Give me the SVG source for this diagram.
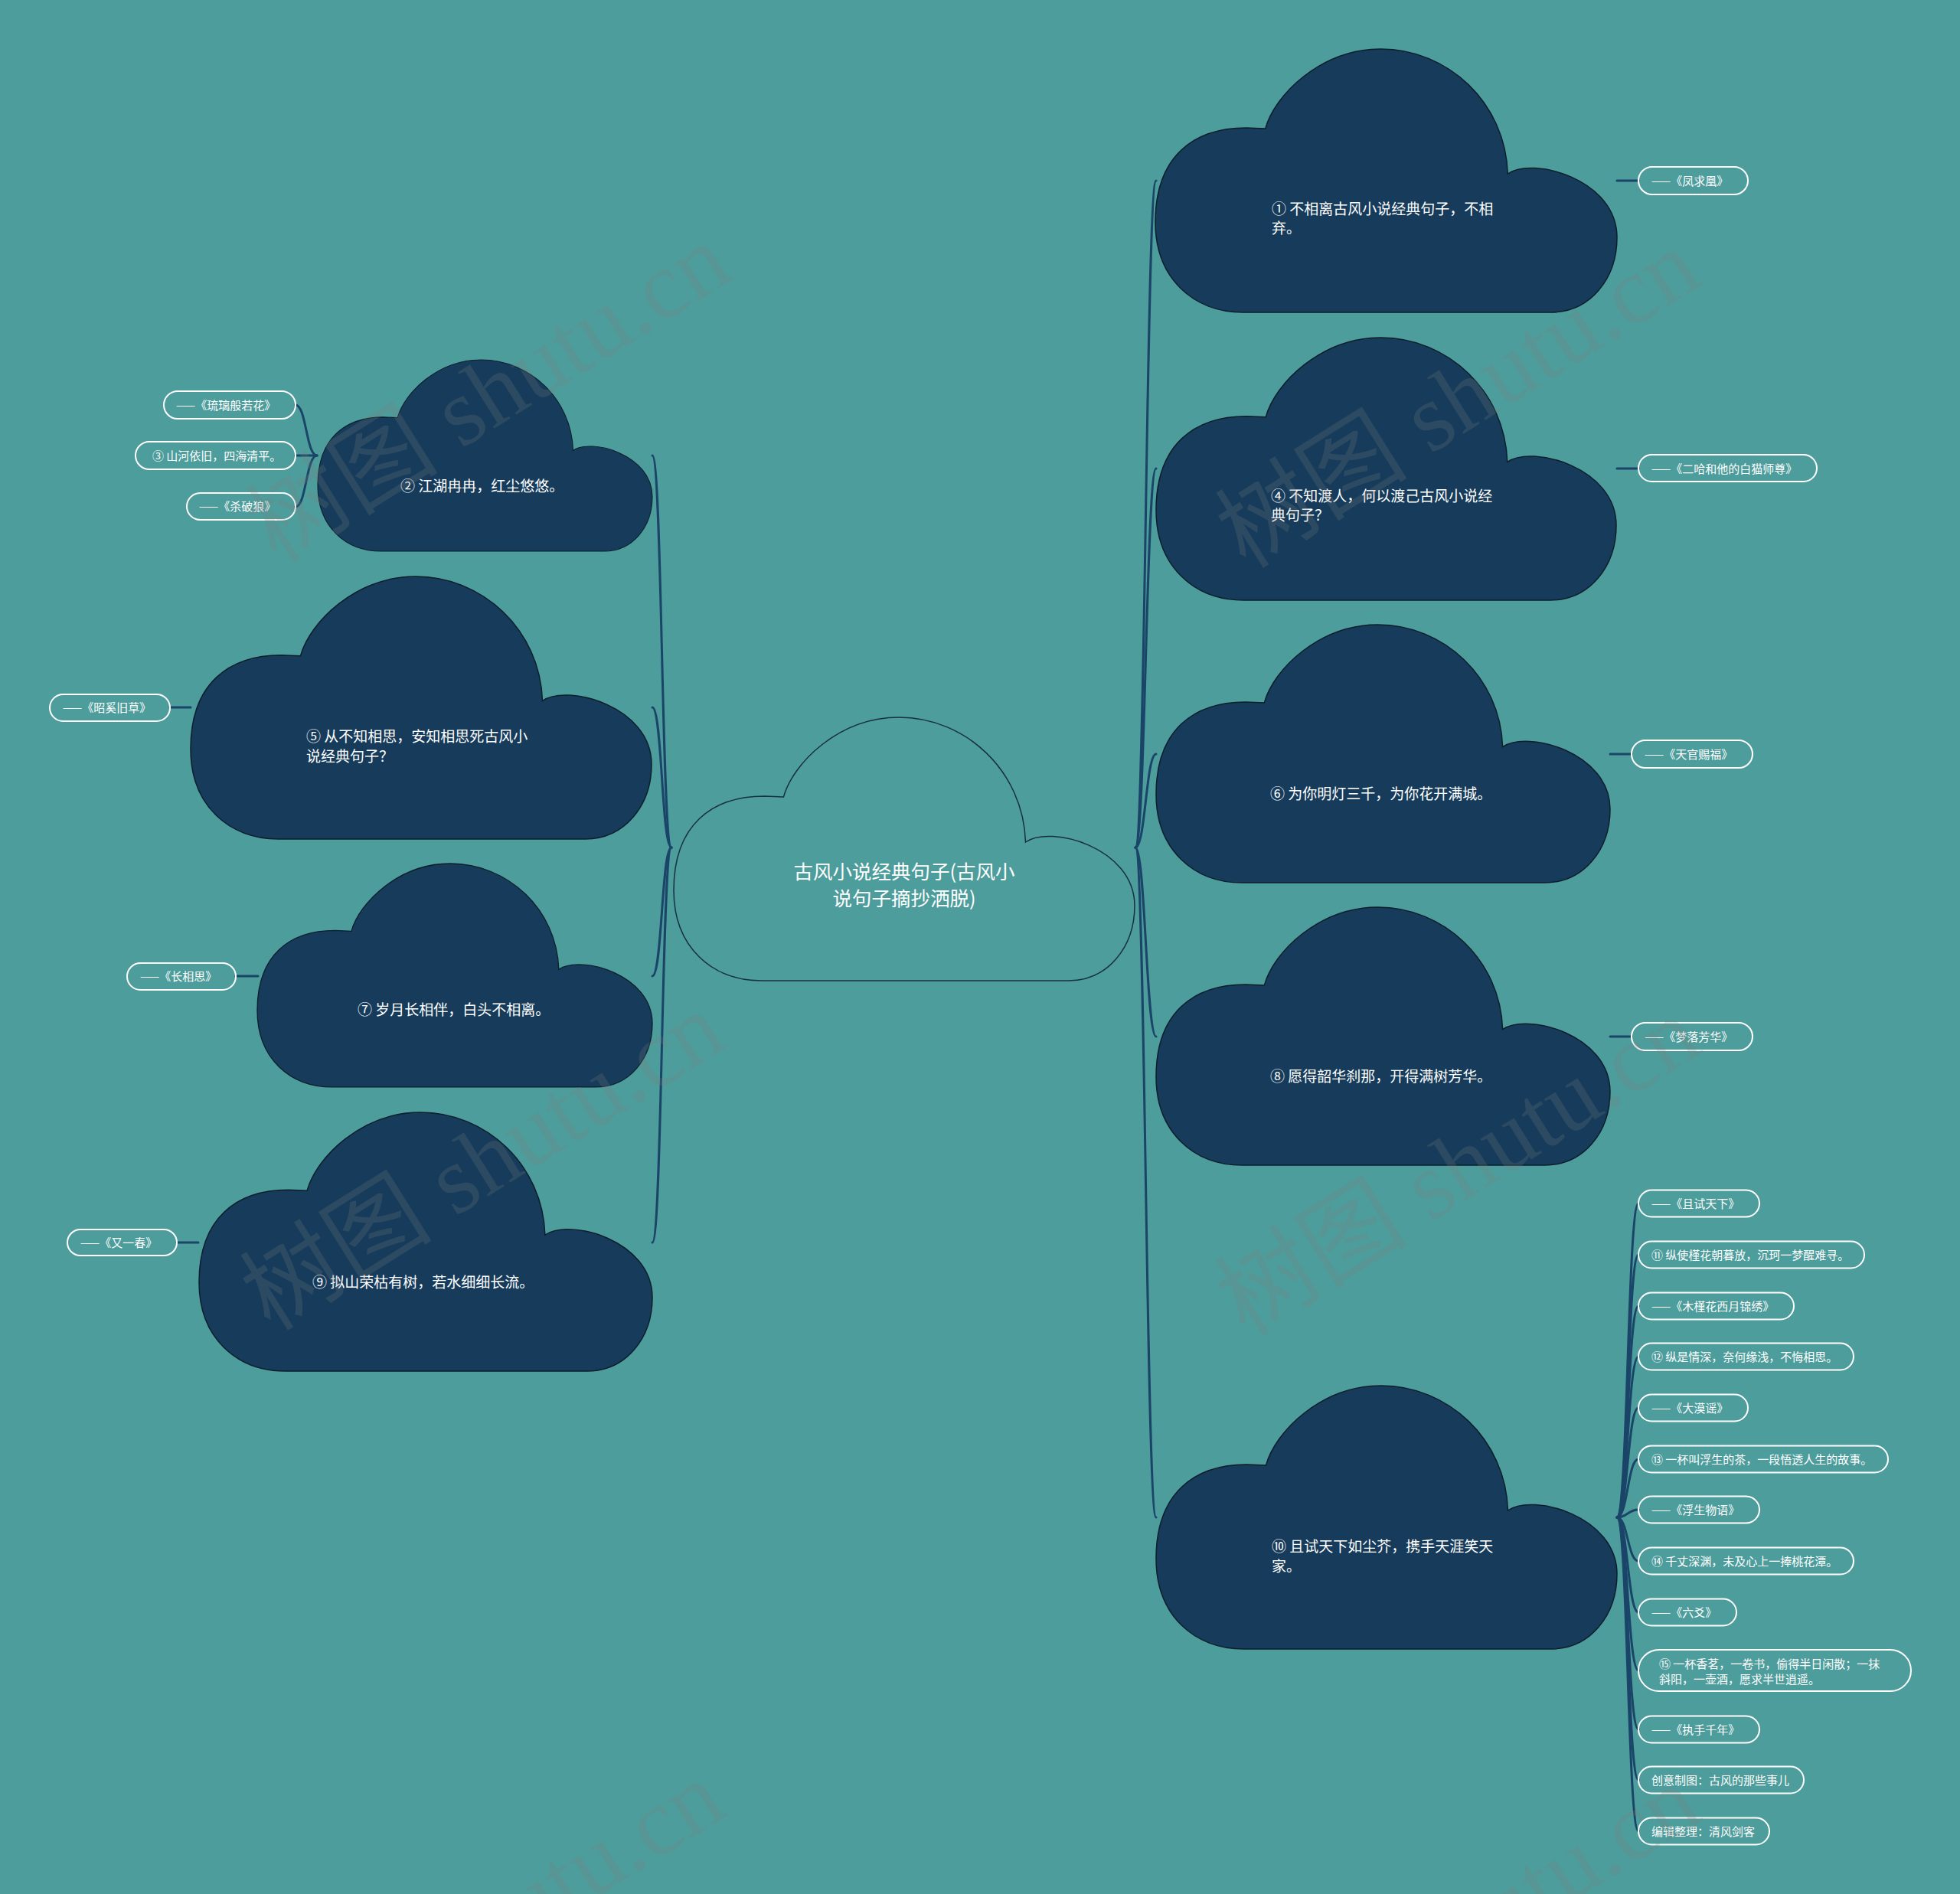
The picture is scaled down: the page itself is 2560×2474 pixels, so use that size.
<svg xmlns="http://www.w3.org/2000/svg" width="2560" height="2474" viewBox="0 0 2560 2474">
<defs>
<style>
.bg{fill:#4d9d9c}
.cloud{fill:#163b5b;stroke:#0d1e2b;stroke-width:1.5;vector-effect:non-scaling-stroke}
.root{fill:#4d9d9c;stroke:#173040;stroke-width:1.5;vector-effect:non-scaling-stroke}
.ct{fill:#ffffff;font-family:"Noto Sans CJK SC","Noto Sans",sans-serif;font-size:19px}
.rt{fill:#ffffff;font-family:"Noto Sans CJK SC","Noto Sans",sans-serif;font-size:25.5px;text-anchor:middle}
.pill{fill:none;stroke:#ffffff;stroke-width:2}
.lt{fill:#ffffff;font-family:"Noto Sans CJK SC","Noto Sans",sans-serif;font-size:15px}
.ln{fill:none;stroke:#1a4568;stroke-width:3;stroke-linecap:round}
.wm{fill:#7f7f7f;opacity:0.22;font-family:"Liberation Serif","Noto Sans CJK SC",serif;font-size:126px;text-anchor:middle}
</style>
<path id="cl" d="M143,104 C155,60 215,0 293,0 C380,0 455,70 458,163 C490,140 600,170 600,246 C600,300 565,344 514,344 L114,344 C50,344 0,300 0,226 C0,140 50,103 118,103 L143,104 Z"/>
</defs>
<rect class="bg" x="0" y="0" width="2560" height="2474"/>

<g id="connectors">
<path class="ln" d="M1483,1107 C1496,1107 1497,236 1510,236"/>
<path class="ln" d="M1483,1107 C1496,1107 1497,612 1510,612"/>
<path class="ln" d="M1483,1107 C1496,1107 1497,985 1510,985"/>
<path class="ln" d="M1483,1107 C1496,1107 1497,1354 1510,1354"/>
<path class="ln" d="M1483,1107 C1496,1107 1497,1982 1510,1982"/>
<path class="ln" d="M877,1107 C864,1107 865,595 852,595"/>
<path class="ln" d="M877,1107 C864,1107 865,924 852,924"/>
<path class="ln" d="M877,1107 C864,1107 865,1275 852,1275"/>
<path class="ln" d="M877,1107 C864,1107 865,1623 852,1623"/>
<path class="ln" d="M2112,236 L2140,236"/>
<path class="ln" d="M2112,612 L2140,612"/>
<path class="ln" d="M2103,985 L2131,985"/>
<path class="ln" d="M2103,1354 L2131,1354"/>
<path class="ln" d="M414,595 C400,595 400,529 386,529"/>
<path class="ln" d="M414,595 L386,595"/>
<path class="ln" d="M414,595 C400,595 400,662 386,662"/>
<path class="ln" d="M249,924 L222,924"/>
<path class="ln" d="M337,1275 L308,1275"/>
<path class="ln" d="M259,1623 L231,1623"/>
<path class="ln" d="M2112,1982 C2126,1982 2126,1572 2140,1572"/>
<path class="ln" d="M2112,1982 C2126,1982 2126,1639 2140,1639"/>
<path class="ln" d="M2112,1982 C2126,1982 2126,1706 2140,1706"/>
<path class="ln" d="M2112,1982 C2126,1982 2126,1772 2140,1772"/>
<path class="ln" d="M2112,1982 C2126,1982 2126,1839 2140,1839"/>
<path class="ln" d="M2112,1982 C2126,1982 2126,1906 2140,1906"/>
<path class="ln" d="M2112,1982 C2126,1982 2126,1972 2140,1972"/>
<path class="ln" d="M2112,1982 C2126,1982 2126,2039 2140,2039"/>
<path class="ln" d="M2112,1982 C2126,1982 2126,2106 2140,2106"/>
<path class="ln" d="M2112,1982 C2126,1982 2126,2182 2140,2182"/>
<path class="ln" d="M2112,1982 C2126,1982 2126,2259 2140,2259"/>
<path class="ln" d="M2112,1982 C2126,1982 2126,2325 2140,2325"/>
<path class="ln" d="M2112,1982 C2126,1982 2126,2392 2140,2392"/>
</g>

<g id="root">
<use href="#cl" class="root" transform="translate(880,937) scale(1.0033,1)"/>
<text class="rt" x="1181" y="1148">古风小说经典句子(古风小</text>
<text class="rt" x="1181" y="1183">说句子摘抄洒脱)</text>
</g>

<g id="n1">
<use href="#cl" class="cloud" transform="translate(1509,64) scale(1.005,1)"/>
<text class="ct" x="1661" y="280">① 不相离古风小说经典句子，不相</text>
<text class="ct" x="1661" y="305">弃。</text>
</g>
<g id="n4">
<use href="#cl" class="cloud" transform="translate(1510,441) scale(1.0017,0.997)"/>
<text class="ct" x="1660" y="655">④ 不知渡人，何以渡己古风小说经</text>
<text class="ct" x="1660" y="680">典句子？</text>
</g>
<g id="n6">
<use href="#cl" class="cloud" transform="translate(1510,816) scale(0.9883,0.9797)"/>
<text class="ct" x="1659" y="1044">⑥ 为你明灯三千，为你花开满城。</text>
</g>
<g id="n8">
<use href="#cl" class="cloud" transform="translate(1510,1185) scale(0.9883,0.9797)"/>
<text class="ct" x="1659" y="1413">⑧ 愿得韶华刹那，开得满树芳华。</text>
</g>
<g id="n10">
<use href="#cl" class="cloud" transform="translate(1510,1810) scale(1.0033,1)"/>
<text class="ct" x="1661" y="2027">⑩ 且试天下如尘芥，携手天涯笑天</text>
<text class="ct" x="1661" y="2053">家。</text>
</g>
<g id="n2">
<use href="#cl" class="cloud" transform="translate(415,470) scale(0.7283,0.7267)"/>
<text class="ct" x="523" y="642">② 江湖冉冉，红尘悠悠。</text>
</g>
<g id="n5">
<use href="#cl" class="cloud" transform="translate(249,753) scale(1.0033,0.997)"/>
<text class="ct" x="400" y="969">⑤ 从不知相思，安知相思死古风小</text>
<text class="ct" x="400" y="995">说经典句子？</text>
</g>
<g id="n7">
<use href="#cl" class="cloud" transform="translate(336,1128) scale(0.86,0.8488)"/>
<text class="ct" x="467" y="1326">⑦ 岁月长相伴，白头不相离。</text>
</g>
<g id="n9">
<use href="#cl" class="cloud" transform="translate(260,1453) scale(0.9867,0.9826)"/>
<text class="ct" x="408" y="1682">⑨ 拟山荣枯有树，若水细细长流。</text>
</g>

<g id="l1"><rect class="pill" x="2140" y="218" width="143" height="36" rx="18"/><text class="lt" x="2157" y="241.5">——《凤求凰》</text></g>
<g id="l4"><rect class="pill" x="2140" y="594" width="233" height="35" rx="17.5"/><text class="lt" x="2157" y="617.5">——《二哈和他的白猫师尊》</text></g>
<g id="l6"><rect class="pill" x="2131" y="967" width="158" height="36" rx="18"/><text class="lt" x="2148" y="990.5">——《天官赐福》</text></g>
<g id="l8"><rect class="pill" x="2131" y="1336" width="158" height="36" rx="18"/><text class="lt" x="2148" y="1359.5">——《梦落芳华》</text></g>

<g id="l2a"><rect class="pill" x="214" y="511" width="172" height="36" rx="18"/><text class="lt" x="230" y="534.5">——《琉璃般若花》</text></g>
<g id="l3"><rect class="pill" x="177" y="577" width="209" height="36" rx="18"/><text class="lt" x="199" y="600.5">③ 山河依旧，四海清平。</text></g>
<g id="l2b"><rect class="pill" x="244" y="644" width="142" height="35" rx="17.5"/><text class="lt" x="260" y="667">——《杀破狼》</text></g>
<g id="l5"><rect class="pill" x="65" y="907" width="157" height="35" rx="17.5"/><text class="lt" x="82" y="930">——《昭奚旧草》</text></g>
<g id="l7"><rect class="pill" x="166" y="1258" width="142" height="35" rx="17.5"/><text class="lt" x="183" y="1281">——《长相思》</text></g>
<g id="l9"><rect class="pill" x="88" y="1606" width="143" height="34" rx="17"/><text class="lt" x="105" y="1628.5">——《又一春》</text></g>

<g id="l10a"><rect class="pill" x="2140" y="1554.5" width="158" height="35" rx="17.5"/><text class="lt" x="2157" y="1577.5">——《且试天下》</text></g>
<g id="l11"><rect class="pill" x="2140" y="1621.5" width="295" height="35" rx="17.5"/><text class="lt" x="2157" y="1644.5">⑪ 纵使槿花朝暮放，沉珂一梦醒难寻。</text></g>
<g id="l10b"><rect class="pill" x="2140" y="1688.5" width="203" height="35" rx="17.5"/><text class="lt" x="2157" y="1711.5">——《木槿花西月锦绣》</text></g>
<g id="l12"><rect class="pill" x="2140" y="1754.5" width="281" height="35" rx="17.5"/><text class="lt" x="2157" y="1777.5">⑫ 纵是情深，奈何缘浅，不悔相思。</text></g>
<g id="l10c"><rect class="pill" x="2140" y="1821.5" width="143" height="35" rx="17.5"/><text class="lt" x="2157" y="1844.5">——《大漠谣》</text></g>
<g id="l13"><rect class="pill" x="2140" y="1888.5" width="326" height="35" rx="17.5"/><text class="lt" x="2157" y="1911.5">⑬ 一杯叫浮生的茶，一段悟透人生的故事。</text></g>
<g id="l10d"><rect class="pill" x="2140" y="1954.5" width="158" height="35" rx="17.5"/><text class="lt" x="2157" y="1977.5">——《浮生物语》</text></g>
<g id="l14"><rect class="pill" x="2140" y="2021.5" width="281" height="35" rx="17.5"/><text class="lt" x="2157" y="2044.5">⑭ 千丈深渊，未及心上一捧桃花潭。</text></g>
<g id="l10e"><rect class="pill" x="2140" y="2088.5" width="128" height="35" rx="17.5"/><text class="lt" x="2157" y="2111.5">——《六爻》</text></g>
<g id="l15"><rect class="pill" x="2140" y="2155" width="356" height="54" rx="27"/><text class="lt" x="2167" y="2178.5">⑮ 一杯香茗，一卷书，偷得半日闲散；一抹</text><text class="lt" x="2167" y="2198.5">斜阳，一壶酒，愿求半世逍遥。</text></g>
<g id="l10f"><rect class="pill" x="2140" y="2241.5" width="158" height="35" rx="17.5"/><text class="lt" x="2157" y="2264.5">——《执手千年》</text></g>
<g id="l16"><rect class="pill" x="2140" y="2307.5" width="216" height="35" rx="17.5"/><text class="lt" x="2157" y="2330.5">创意制图：古风的那些事儿</text></g>
<g id="l17"><rect class="pill" x="2140" y="2374.5" width="171" height="35" rx="17.5"/><text class="lt" x="2157" y="2397.5">编辑整理：清风剑客</text></g>

<g id="watermark">
<text class="wm" transform="translate(661,550) rotate(-32)">树图 shutu.cn</text>
<text class="wm" transform="translate(1927,557) rotate(-32)">树图 shutu.cn</text>
<text class="wm" transform="translate(653,1553) rotate(-32)">树图 shutu.cn</text>
<text class="wm" transform="translate(1927,1560) rotate(-32)">树图 shutu.cn</text>
<text class="wm" transform="translate(653,2557) rotate(-32)">树图 shutu.cn</text>
<text class="wm" transform="translate(1927,2563) rotate(-32)">树图 shutu.cn</text>
</g>
</svg>
